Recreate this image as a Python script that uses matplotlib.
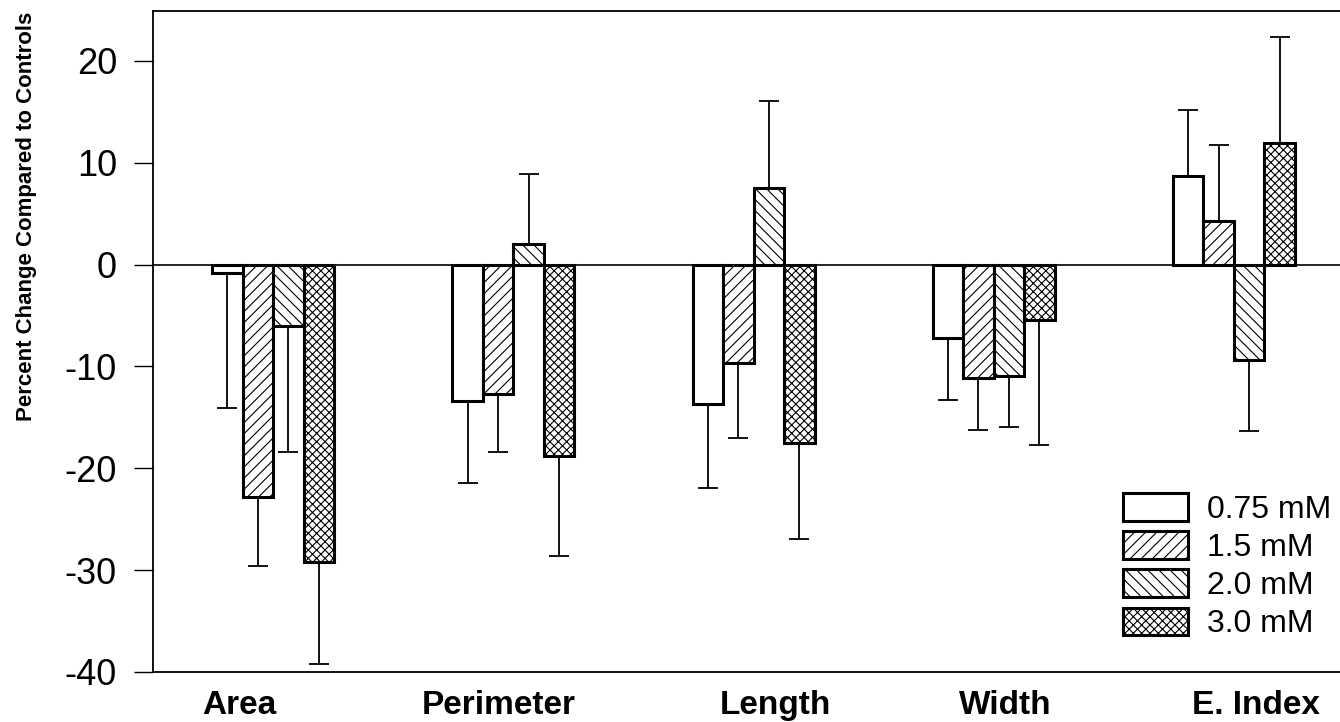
import numpy as np
import matplotlib
matplotlib.use("Agg")
import matplotlib.pyplot as plt

plt.rcParams['font.family'] = ['Liberation Sans', 'DejaVu Sans']
plt.rcParams['hatch.linewidth'] = 0.8
plt.rcParams['axes.unicode_minus'] = False

# measured parameters
categories = ["Area", "Perimeter", "Length", "Width", "E. Index"]
doses = ["0.75 mM", "1.5 mM", "2.0 mM", "3.0 mM"]

# mean percent change per dose (one value per category)
v075 = [-0.8, -13.4, -13.7, -7.2, 8.7]
v15 = [-22.8, -12.7, -9.7, -11.1, 4.3]
v20 = [-6.0, 2.0, 7.5, -10.9, -9.4]
v30 = [-29.2, -18.8, -17.5, -5.4, 11.9]

# error bar sizes (drawn away from zero only)
e075 = [13.3, 8.0, 8.2, 6.1, 6.5]
e15 = [6.8, 5.7, 7.3, 5.1, 7.4]
e20 = [12.4, 6.9, 8.6, 5.0, 6.9]
e30 = [10.0, 9.8, 9.4, 12.3, 10.4]

values = [v075, v15, v20, v30]
errors = [e075, e15, e20, e30]
hatches = ["", "///", "\\\\\\", "xxxx"]

fig = plt.figure(figsize=(13.4, 7.22), dpi=100)
ax = fig.add_axes([0.1142, 0.0693, 0.8855, 0.9155])

x = np.arange(len(categories))
w = 0.127
for k, (vals, errs) in enumerate(zip(values, errors)):
    vals = np.array(vals)
    errs = np.array(errs)
    pos = x + (k - 1.5) * w
    lower = np.where(vals < 0, errs, 0)
    upper = np.where(vals >= 0, errs, 0)
    ax.errorbar(pos, vals, yerr=[lower, upper], fmt="none", ecolor="black",
                elinewidth=1.3, capsize=7, capthick=1.3, zorder=1)
    ax.bar(pos, vals, width=w, color="white", edgecolor="black",
           linewidth=2.2, hatch=hatches[k], label=doses[k], zorder=2)

ax.axhline(0, color="black", linewidth=1.2, zorder=3)

ax.set_xlim(-0.5, 4.44)
ax.set_ylim(-40, 24.9)
ax.set_yticks(np.arange(-40, 21, 10))
ax.tick_params(axis="y", labelsize=26, length=14, width=1.0, pad=12, direction="out")

# category labels sit slightly off the bar group centres in the original
label_shift = [-0.14, -0.06, 0.09, 0.05, 0.09]
ax.set_xticks(x + np.array(label_shift))
ax.set_xticklabels(categories, fontsize=24, fontweight="bold")
ax.tick_params(axis="x", length=0, pad=13)

ax.spines["right"].set_visible(False)
for s in ["left", "top", "bottom"]:
    ax.spines[s].set_linewidth(1.3)

ax.set_ylabel("Percent Change Compared to Controls", fontsize=16, fontweight="bold")
ax.yaxis.set_label_coords(-0.098, 0.69)

ax.legend(loc="lower right", bbox_to_anchor=(1.004, 0.03), frameon=False,
          fontsize=23, handlelength=2.05, handleheight=0.95, handletextpad=0.6,
          labelspacing=0.2, borderaxespad=0)

fig.savefig("out.png", dpi=100)
